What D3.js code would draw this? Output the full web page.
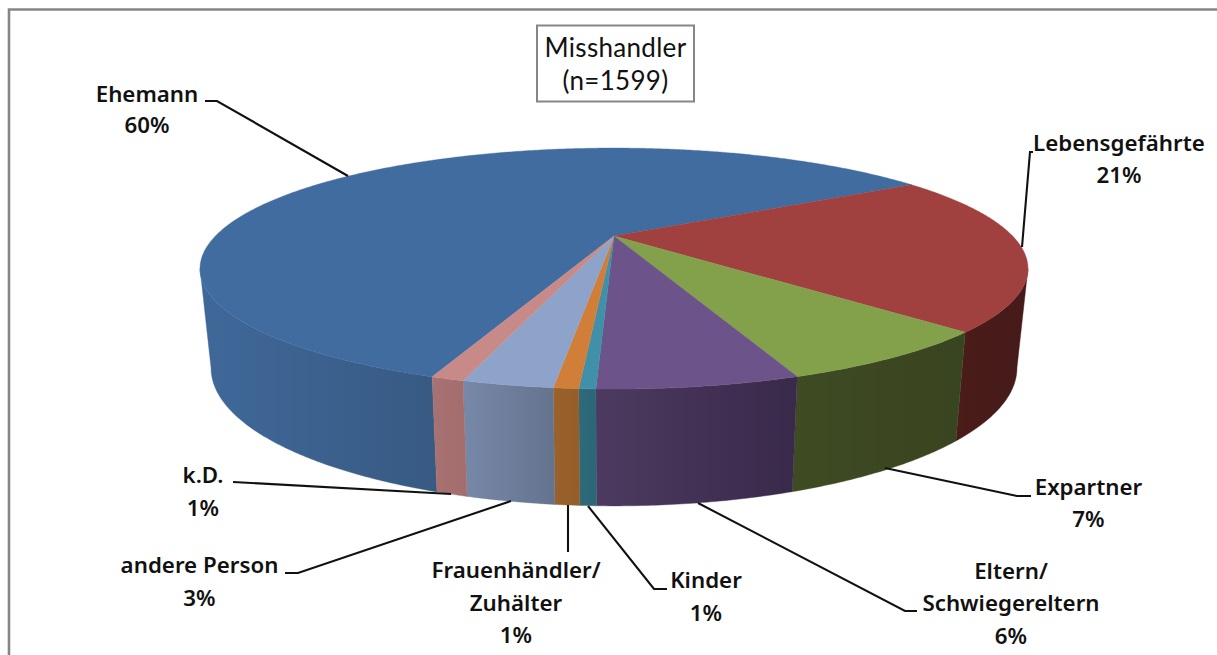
<!DOCTYPE html>
<html>
<head>
<meta charset="utf-8">
<script src="https://cdn.jsdelivr.net/npm/d3@7"></script>
<style>
html,body{margin:0;padding:0;background:#fff;overflow:hidden}
svg{display:block}
text{font-family:Lato,"Open Sans",sans-serif;fill:#111}
.lab text{font-family:"Noto Sans","Open Sans",sans-serif}
</style>
</head>
<body>
<svg id="c" width="1217" height="655"></svg>
<script>
// ---- data ----
const categories = ["Ehemann","Lebensgefährte","Expartner","Eltern/ Schwiegereltern","Kinder","Frauenhändler/ Zuhälter","andere Person","k.D."];
const values = [60.7,21.1,7.1,6.1,0.5,0.75,2.75,1.0];
const percentLabels = ["60%","21%","7%","6%","1%","1%","3%","1%"];
const titleLines = ["Misshandler","(n=1599)"];

// ---- styles ----
const topColors  = ["#416c9f","#a0413f","#83a04b","#6c5389","#3f90a8","#d17f38","#8da3c9","#c78a88"];
const wallLeft   = ["#3f6899","#4a1c1a","#3f4b23","#4d3a60","#2d6a7a","#9a612c","#7888a8","#a97272"];
const wallRight  = ["#385a83","#451a18","#394420","#39294a","#2d6676","#955d2a","#64738e","#a36d6d"];

// ---- layout ----
const rad = d3.scaleLinear().domain([0,360]).range([0,2*Math.PI]);
const cx = 614;
const k = 0.27;
const topDisc    = {rx:398.6, ry:111.7, ay:236};
const bottomDisc = {rx:388,   ry:127.9, ay:330.7};
const startDeg = -160.1;

const labelLayout = [
  {x:147,  ys:[102,133],      lines:["Ehemann"]},
  {x:1119, ys:[151,183],      lines:["Lebensgefährte"]},
  {x:1088.5,ys:[495,527],     lines:["Expartner"]},
  {x:1011, ys:[579,611,644],  lines:["Eltern/","Schwiegereltern"]},
  {x:706,  ys:[588,621],      lines:["Kinder"]},
  {x:516,  ys:[578,611,643],  lines:["Frauenhändler/","Zuhälter"]},
  {x:199.5,ys:[573,606],      lines:["andere Person"]},
  {x:203,  ys:[483,516],      lines:["k.D."]}
];
const leaders = [
  [[205,101],[217,101],[348,176]],
  [[1033,152],[1030,152],[1022,247]],
  [[1031,496],[1017,496],[885,468]],
  [[917,611],[905,611],[698,503]],
  [[667,589],[654,589],[588,506]],
  [[568,552],[568,505]],
  [[285,573],[298,573],[511,501]],
  [[233,482],[451,494]]
];

// ---- projection of the tilted disc (perspective) ----
function project(disc, aDeg){
  const a = rad(aDeg), X = Math.sin(a), Y = -Math.cos(a), w = 1 - k*Y;
  return [cx + disc.rx*X/w, disc.ay + disc.ry*Y/w];
}
const deg = d3.scaleLinear().domain([0,2*Math.PI]).range([0,360]);
const arcs = d3.pie().sort(null)
  .startAngle(rad(startDeg)).endAngle(rad(startDeg+360))(values)
  .map(d => ({i:d.index, s:deg(d.startAngle), e:deg(d.endAngle)}));

const line = d3.line();
const svg = d3.select("#c");
const defs = svg.append("defs");

// frame
svg.append("path").attr("d",line([[9,655],[9,9.5],[1217,9.5]]))
  .attr("fill","none").attr("stroke","#868686").attr("stroke-width",2.6);

// outer walls
const visFrom = 90 + deg(Math.asin(k)), visTo = 270 - deg(Math.asin(k));
const sample = (s,e) => d3.range(0, Math.ceil((e-s)/0.5)+1).map(n => Math.min(e, s+n*0.5));
const walls = arcs.map(d => {
  const shift = d.s < 0 ? 360 : 0;
  const s = Math.max(d.s+shift, visFrom), e = Math.min(d.e+shift, visTo);
  return {...d, vs:s, ve:e};
}).filter(d => d.ve > d.vs);

walls.forEach(d => {
  const pts = sample(d.vs,d.ve);
  const tp = pts.map(a => project(topDisc,a));
  const bt = pts.map(a => project(bottomDisc,a)).reverse();
  const xs = tp.concat(bt).map(p => p[0]);
  const g = defs.append("linearGradient").attr("id","w"+d.i)
    .attr("gradientUnits","userSpaceOnUse")
    .attr("x1",d3.min(xs)).attr("x2",d3.max(xs)).attr("y1",0).attr("y2",0);
  g.append("stop").attr("offset",0).attr("stop-color",wallLeft[d.i]);
  g.append("stop").attr("offset",1).attr("stop-color",wallRight[d.i]);
  svg.append("path").attr("d",line(tp.concat(bt))+"Z")
    .attr("fill",`url(#w${d.i})`)
    .attr("stroke",`url(#w${d.i})`).attr("stroke-width",0.4);
});

// top face
svg.append("g").selectAll("path").data(arcs).join("path")
  .attr("d",d => line([[cx,topDisc.ay]].concat(sample(d.s,d.e).map(a => project(topDisc,a))))+"Z")
  .attr("fill",d => topColors[d.i])
  .attr("stroke",d => topColors[d.i]).attr("stroke-width",0.4);

// leader lines
svg.append("g").selectAll("path").data(leaders).join("path")
  .attr("d",d => line(d)).attr("fill","none")
  .attr("stroke","#111").attr("stroke-width",2.1);

// data labels
const lab = svg.append("g").attr("class","lab").attr("font-size",22.3).attr("font-weight",600).attr("text-anchor","middle");
categories.forEach((c,i) => {
  const L = labelLayout[i];
  L.lines.concat([percentLabels[i]]).forEach((t,j) => {
    lab.append("text").attr("x",L.x).attr("y",L.ys[j]).text(t);
  });
});

// title box
svg.append("rect").attr("x",537).attr("y",25.5).attr("width",157).attr("height",76)
  .attr("fill","#fff").attr("stroke","#868686").attr("stroke-width",2);
const titleYs = [57,90];
svg.append("g").attr("text-anchor","middle").attr("font-size",26).attr("letter-spacing",0.3)
  .selectAll("text").data(titleLines).join("text")
  .attr("x",615.5).attr("y",(d,i)=>titleYs[i]).text(d=>d);
</script>
</body>
</html>
